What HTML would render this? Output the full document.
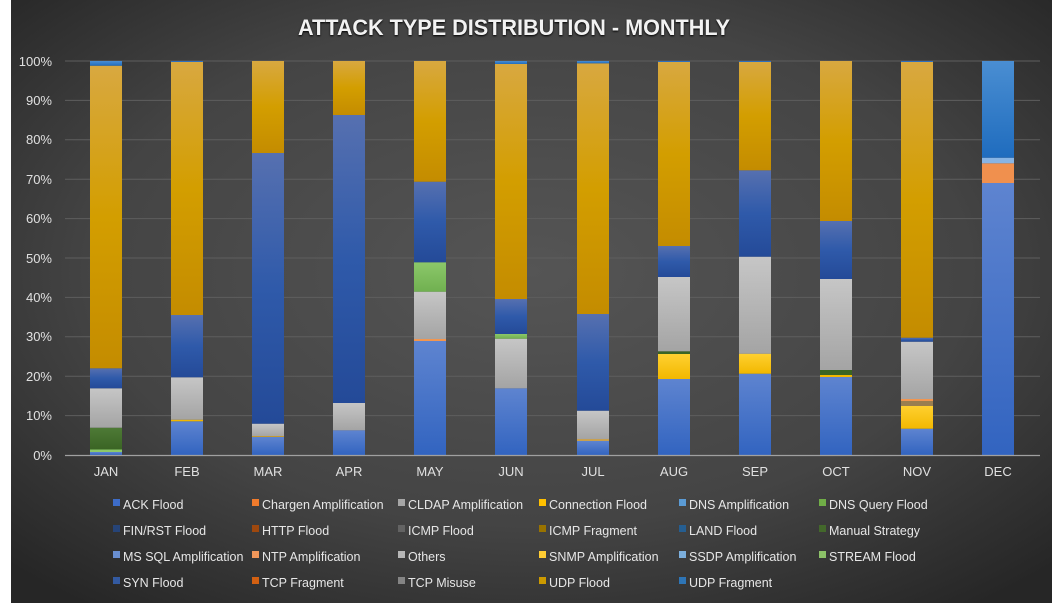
<!DOCTYPE html>
<html><head><meta charset="utf-8"><style>
html,body{margin:0;padding:0;background:#fff;}
svg{display:block;font-family:"Liberation Sans",sans-serif;}
</style></head><body>
<svg width="1060" height="608" viewBox="0 0 1060 608" xmlns="http://www.w3.org/2000/svg">
<defs>
<radialGradient id="bg" cx="0.5" cy="0.45" r="0.7">
<stop offset="0" stop-color="#555"/><stop offset="0.6" stop-color="#444"/><stop offset="1" stop-color="#262626"/></radialGradient>
<linearGradient id="gold" x1="0" y1="0" x2="0" y2="1"><stop offset="0" stop-color="#d8a840"/><stop offset="0.5" stop-color="#d39e00"/><stop offset="1" stop-color="#c48c00"/></linearGradient>
<linearGradient id="syn" x1="0" y1="0" x2="0" y2="1"><stop offset="0" stop-color="#5670b0"/><stop offset="0.5" stop-color="#2f5aaa"/><stop offset="1" stop-color="#244a98"/></linearGradient>
<linearGradient id="ack" x1="0" y1="0" x2="0" y2="1"><stop offset="0" stop-color="#5e84d0"/><stop offset="1" stop-color="#3264c0"/></linearGradient>
<linearGradient id="grey" x1="0" y1="0" x2="0" y2="1"><stop offset="0" stop-color="#c6c6c6"/><stop offset="1" stop-color="#a4a4a4"/></linearGradient>
<linearGradient id="uf" x1="0" y1="0" x2="0" y2="1"><stop offset="0" stop-color="#4a8ed2"/><stop offset="1" stop-color="#1f6cbe"/></linearGradient>
<linearGradient id="yel" x1="0" y1="0" x2="0" y2="1"><stop offset="0" stop-color="#ffd030"/><stop offset="1" stop-color="#f2b800"/></linearGradient>
<linearGradient id="grn" x1="0" y1="0" x2="0" y2="1"><stop offset="0" stop-color="#8cc86a"/><stop offset="1" stop-color="#70b050"/></linearGradient>
<linearGradient id="dg" x1="0" y1="0" x2="0" y2="1"><stop offset="0" stop-color="#4e7a36"/><stop offset="1" stop-color="#3a6424"/></linearGradient>
</defs>
<rect x="11" y="0" width="1041" height="603" fill="url(#bg)"/>
<text x="514" y="35" text-anchor="middle" font-size="22" font-weight="bold" fill="#f2f2f2" textLength="432" lengthAdjust="spacingAndGlyphs" style="text-shadow:0 1px 2px #000">ATTACK TYPE DISTRIBUTION - MONTHLY</text>
<g stroke="#5e5e5e" stroke-width="1">
<line x1="65" y1="61" x2="1040" y2="61"/><line x1="65" y1="100.4" x2="1040" y2="100.4"/><line x1="65" y1="139.8" x2="1040" y2="139.8"/><line x1="65" y1="179.2" x2="1040" y2="179.2"/><line x1="65" y1="218.6" x2="1040" y2="218.6"/><line x1="65" y1="258" x2="1040" y2="258"/><line x1="65" y1="297.4" x2="1040" y2="297.4"/><line x1="65" y1="336.8" x2="1040" y2="336.8"/><line x1="65" y1="376.2" x2="1040" y2="376.2"/><line x1="65" y1="415.6" x2="1040" y2="415.6"/>
</g>
<g font-size="13" fill="#e0e0e0" text-anchor="end">
<text x="52" y="66">100%</text><text x="52" y="105">90%</text><text x="52" y="144">80%</text><text x="52" y="184">70%</text><text x="52" y="223">60%</text><text x="52" y="263">50%</text><text x="52" y="302">40%</text><text x="52" y="341">30%</text><text x="52" y="381">20%</text><text x="52" y="420">10%</text><text x="52" y="460">0%</text>
</g>
<g>
<rect x="90" y="452" width="32" height="3" fill="url(#ack)"/><rect x="90" y="449.5" width="32" height="2.5" fill="#8cc86a"/><rect x="90" y="427.7" width="32" height="21.8" fill="url(#dg)"/><rect x="90" y="388.3" width="32" height="39.4" fill="url(#grey)"/><rect x="90" y="368.3" width="32" height="20" fill="url(#syn)"/><rect x="90" y="65.7" width="32" height="302.6" fill="url(#gold)"/><rect x="90" y="61" width="32" height="4.7" fill="url(#uf)"/>
<rect x="171" y="421.3" width="32" height="33.7" fill="url(#ack)"/><rect x="171" y="419.7" width="32" height="1.6" fill="#f2b800"/><rect x="171" y="377.3" width="32" height="42.4" fill="url(#grey)"/><rect x="171" y="315" width="32" height="62.3" fill="url(#syn)"/><rect x="171" y="62" width="32" height="253" fill="url(#gold)"/><rect x="171" y="61" width="32" height="1" fill="#2f6fbf"/>
<rect x="252" y="437" width="32" height="18" fill="url(#ack)"/><rect x="252" y="436" width="32" height="1" fill="#c49a30"/><rect x="252" y="423.7" width="32" height="12.3" fill="url(#grey)"/><rect x="252" y="153" width="32" height="270.7" fill="url(#syn)"/><rect x="252" y="61" width="32" height="92" fill="url(#gold)"/>
<rect x="333" y="430.3" width="32" height="24.7" fill="url(#ack)"/><rect x="333" y="403" width="32" height="27.3" fill="url(#grey)"/><rect x="333" y="115" width="32" height="288" fill="url(#syn)"/><rect x="333" y="61" width="32" height="54" fill="url(#gold)"/>
<rect x="414" y="341" width="32" height="114" fill="url(#ack)"/><rect x="414" y="339" width="32" height="2" fill="#f29650"/><rect x="414" y="291.7" width="32" height="47.3" fill="url(#grey)"/><rect x="414" y="262.3" width="32" height="29.4" fill="url(#grn)"/><rect x="414" y="181.7" width="32" height="80.6" fill="url(#syn)"/><rect x="414" y="61" width="32" height="120.7" fill="url(#gold)"/>
<rect x="495" y="388.3" width="32" height="66.7" fill="url(#ack)"/><rect x="495" y="338.7" width="32" height="49.6" fill="url(#grey)"/><rect x="495" y="334" width="32" height="4.7" fill="url(#grn)"/><rect x="495" y="299" width="32" height="35" fill="url(#syn)"/><rect x="495" y="64" width="32" height="235" fill="url(#gold)"/><rect x="495" y="61" width="32" height="3" fill="url(#uf)"/>
<rect x="577" y="441" width="32" height="14" fill="url(#ack)"/><rect x="577" y="439" width="32" height="2" fill="#c8a050"/><rect x="577" y="410.7" width="32" height="28.3" fill="url(#grey)"/><rect x="577" y="314" width="32" height="96.7" fill="url(#syn)"/><rect x="577" y="63.3" width="32" height="250.7" fill="url(#gold)"/><rect x="577" y="61" width="32" height="2.3" fill="url(#uf)"/>
<rect x="658" y="379" width="32" height="76" fill="url(#ack)"/><rect x="658" y="354" width="32" height="25" fill="url(#yel)"/><rect x="658" y="351.3" width="32" height="2.7" fill="#3a6424"/><rect x="658" y="277" width="32" height="74.3" fill="url(#grey)"/><rect x="658" y="246" width="32" height="31" fill="url(#syn)"/><rect x="658" y="62" width="32" height="184" fill="url(#gold)"/><rect x="658" y="61" width="32" height="1" fill="#2f6fbf"/>
<rect x="739" y="373.7" width="32" height="81.3" fill="url(#ack)"/><rect x="739" y="353.7" width="32" height="20" fill="url(#yel)"/><rect x="739" y="256.7" width="32" height="97" fill="url(#grey)"/><rect x="739" y="170.3" width="32" height="86.4" fill="url(#syn)"/><rect x="739" y="62" width="32" height="108.3" fill="url(#gold)"/><rect x="739" y="61" width="32" height="1" fill="#2f6fbf"/>
<rect x="820" y="377" width="32" height="78" fill="url(#ack)"/><rect x="820" y="375" width="32" height="2" fill="#f2b800"/><rect x="820" y="370" width="32" height="5" fill="#3a6424"/><rect x="820" y="279" width="32" height="91" fill="url(#grey)"/><rect x="820" y="221" width="32" height="58" fill="url(#syn)"/><rect x="820" y="61" width="32" height="160" fill="url(#gold)"/>
<rect x="901" y="428.7" width="32" height="26.3" fill="url(#ack)"/><rect x="901" y="406" width="32" height="22.7" fill="url(#yel)"/><rect x="901" y="401" width="32" height="5" fill="#9a7e50"/><rect x="901" y="399" width="32" height="2" fill="#f29650"/><rect x="901" y="341.7" width="32" height="57.3" fill="url(#grey)"/><rect x="901" y="337.7" width="32" height="4" fill="url(#syn)"/><rect x="901" y="62" width="32" height="275.7" fill="url(#gold)"/><rect x="901" y="61" width="32" height="1" fill="#2f6fbf"/>
<rect x="982" y="183" width="32" height="272" fill="url(#ack)"/><rect x="982" y="163.3" width="32" height="19.7" fill="#f0904e"/><rect x="982" y="157.7" width="32" height="5.6" fill="#88b4e4"/><rect x="982" y="61" width="32" height="96.7" fill="url(#uf)"/>
</g>
<line x1="65" y1="455.5" x2="1040" y2="455.5" stroke="#a0a0a0" stroke-width="1.2"/>
<g font-size="13" fill="#e0e0e0" text-anchor="middle">
<text x="106" y="476">JAN</text><text x="187" y="476">FEB</text><text x="268" y="476">MAR</text><text x="349" y="476">APR</text><text x="430" y="476">MAY</text><text x="511" y="476">JUN</text><text x="593" y="476">JUL</text><text x="674" y="476">AUG</text><text x="755" y="476">SEP</text><text x="836" y="476">OCT</text><text x="917" y="476">NOV</text><text x="998" y="476">DEC</text>
</g>
<g font-size="12.5" fill="#e6e6e6">
<rect x="113" y="499" width="7" height="7" fill="#3d6cc8"/><text x="123" y="509">ACK Flood</text>
<rect x="252" y="499" width="7" height="7" fill="#f07b2c"/><text x="262" y="509">Chargen Amplification</text>
<rect x="398" y="499" width="7" height="7" fill="#a6a6a6"/><text x="408" y="509">CLDAP Amplification</text>
<rect x="539" y="499" width="7" height="7" fill="#ffc000"/><text x="549" y="509">Connection Flood</text>
<rect x="679" y="499" width="7" height="7" fill="#5b9bd5"/><text x="689" y="509">DNS Amplification</text>
<rect x="819" y="499" width="7" height="7" fill="#70ad47"/><text x="829" y="509">DNS Query Flood</text>
<rect x="113" y="525" width="7" height="7" fill="#264478"/><text x="123" y="535">FIN/RST Flood</text>
<rect x="252" y="525" width="7" height="7" fill="#9e480e"/><text x="262" y="535">HTTP Flood</text>
<rect x="398" y="525" width="7" height="7" fill="#636363"/><text x="408" y="535">ICMP Flood</text>
<rect x="539" y="525" width="7" height="7" fill="#997300"/><text x="549" y="535">ICMP Fragment</text>
<rect x="679" y="525" width="7" height="7" fill="#255e91"/><text x="689" y="535">LAND Flood</text>
<rect x="819" y="525" width="7" height="7" fill="#43682b"/><text x="829" y="535">Manual Strategy</text>
<rect x="113" y="551" width="7" height="7" fill="#698ed0"/><text x="123" y="561">MS SQL Amplification</text>
<rect x="252" y="551" width="7" height="7" fill="#f1975a"/><text x="262" y="561">NTP Amplification</text>
<rect x="398" y="551" width="7" height="7" fill="#b7b7b7"/><text x="408" y="561">Others</text>
<rect x="539" y="551" width="7" height="7" fill="#ffcd33"/><text x="549" y="561">SNMP Amplification</text>
<rect x="679" y="551" width="7" height="7" fill="#7cafdd"/><text x="689" y="561">SSDP Amplification</text>
<rect x="819" y="551" width="7" height="7" fill="#8cc168"/><text x="829" y="561">STREAM Flood</text>
<rect x="113" y="577" width="7" height="7" fill="#335aa1"/><text x="123" y="587">SYN Flood</text>
<rect x="252" y="577" width="7" height="7" fill="#d26012"/><text x="262" y="587">TCP Fragment</text>
<rect x="398" y="577" width="7" height="7" fill="#848484"/><text x="408" y="587">TCP Misuse</text>
<rect x="539" y="577" width="7" height="7" fill="#cc9a00"/><text x="549" y="587">UDP Flood</text>
<rect x="679" y="577" width="7" height="7" fill="#2e75b6"/><text x="689" y="587">UDP Fragment</text>
</g>
</svg>
</body></html>
